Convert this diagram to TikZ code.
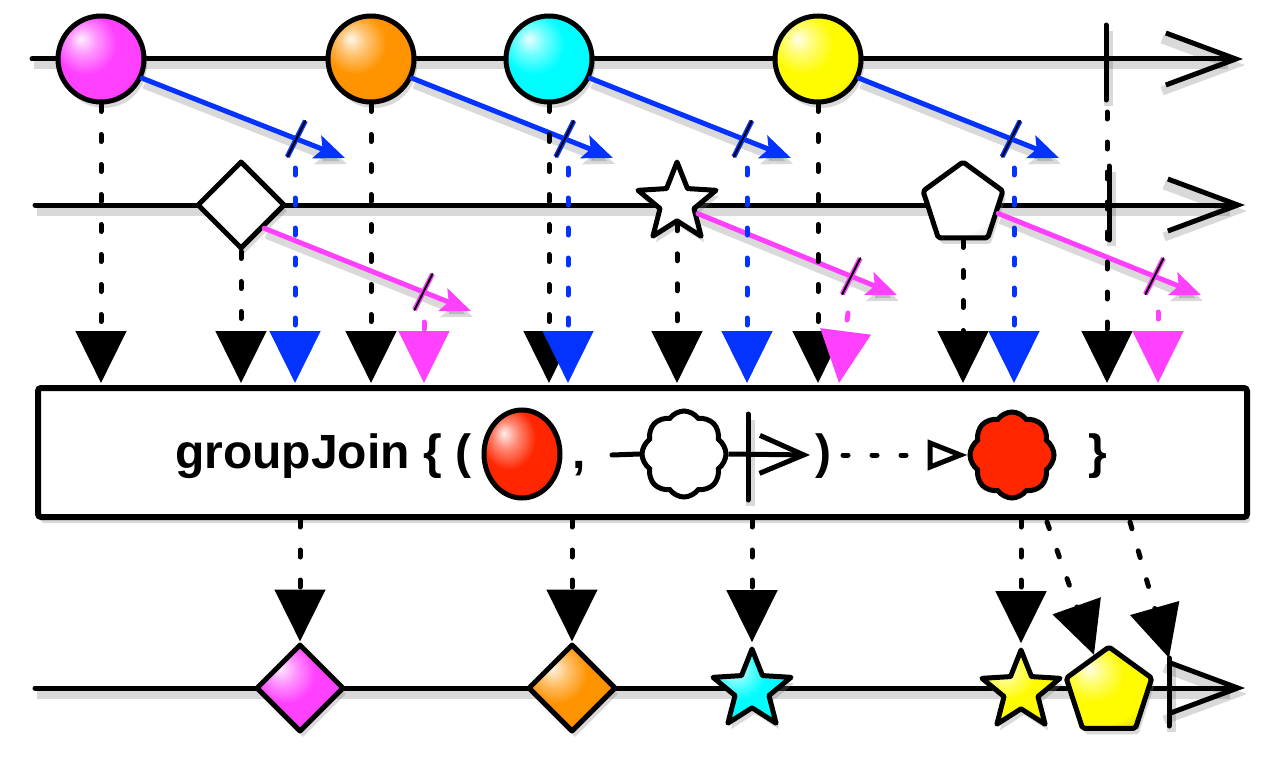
\documentclass[tikz,border=0pt]{standalone}
\usepackage{fontspec}
\setmainfont{Liberation Sans}
\usetikzlibrary{calc, arrows.meta, shapes.geometric, shapes.symbols, shadows}

\definecolor{rxmagenta}{RGB}{255,64,255}
\definecolor{rxblue}{RGB}{4,51,255}
\definecolor{rxorange}{RGB}{255,147,0}
\definecolor{rxcyan}{RGB}{0,253,255}
\definecolor{rxyellow}{RGB}{255,251,0}
\definecolor{rxred}{RGB}{255,38,0}

% brighter glossy fill than the stock ball shading
\makeatletter
\pgfdeclareradialshading[tikz@ball]{marbleball}{\pgfqpoint{-12bp}{12bp}}{%
  color(0bp)=(tikz@ball!8!white); color(8bp)=(tikz@ball!55!white);
  color(18bp)=(tikz@ball); color(30bp)=(tikz@ball);
  color(42bp)=(tikz@ball!78!black); color(54bp)=(tikz@ball!50!black);
  color(70bp)=(tikz@ball!35!black)}
\makeatother

\tikzset{
  bright/.style={ball color=#1, shading=marbleball},
  dropsh/.style={drop shadow={shadow xshift=3pt, shadow yshift=-6pt, opacity=0.3}},
  lineshadow/.style={preaction={draw=black, opacity=0.15, line width=9pt,
      transform canvas={shift={(2pt,-6pt)}}}},
  timeline/.style={line width=5pt, line cap=round, lineshadow,
      -{Straight Barb[length=70pt, width=52pt]}},
  endmark/.style={line width=5pt, line cap=round, lineshadow},
  marble/.style={circle, draw, line width=5pt, minimum size=86pt, inner sep=0pt, dropsh},
  gem/.style={diamond, draw, line width=5pt, line join=round, minimum size=88pt,
      inner sep=0pt, dropsh},
  starnode/.style={star, star points=5, star point ratio=2.3, draw, line width=5pt,
      line join=round, minimum size=82pt, inner sep=0pt, dropsh},
  pentnode/.style={regular polygon, regular polygon sides=5, draw, line width=5pt,
      line join=round, rounded corners=2pt, minimum size=84pt, inner sep=0pt, dropsh},
  flow/.style={line width=5pt, line cap=round, dash pattern=on 7pt off 23pt,
      -{Triangle[length=52pt, width=50pt]}},
  delay/.style={line width=5pt, line cap=round, lineshadow,
      -{Stealth[length=30pt, width=24pt, inset=6pt]}},
  slashmark/.style={line width=2pt, line cap=round, preaction={draw=#1, line width=5pt}},
  opfont/.style={font=\bfseries\fontsize{48}{56}\selectfont, inner sep=0pt, anchor=base west},
  puff/.style={cloud, cloud puffs=8, cloud puff arc=110, aspect=1, draw, line width=5pt,
      minimum width=84pt, minimum height=86pt, inner sep=0pt},
}

\begin{document}
\begin{tikzpicture}[x=1pt, y=-1pt]
  \useasboundingbox (0,0) rectangle (1280,760);

  % the three timelines
  \coordinate (srcL) at (32,59);
  \coordinate (srcR) at (1243,59);
  \coordinate (durL) at (35,205);
  \coordinate (durR) at (1245,205);
  \coordinate (outL) at (35,688);
  \coordinate (outR) at (1245,688);
  \draw[timeline] (srcL) -- (srcR);
  \draw[timeline] (durL) -- (durR);
  \draw[timeline] (outL) -- (outR);

  % completion marks
  \coordinate (srcT) at (1106,25);
  \coordinate (srcB) at (1106,100);
  \coordinate (durT) at (1109,166);
  \coordinate (durB) at (1109,240);
  \coordinate (outT) at (1169,658);
  \coordinate (outB) at (1169,726);
  \draw[endmark] (srcT) -- (srcB);
  \draw[endmark] (durT) -- (durB);
  \draw[endmark] (outT) -- (outB);

  % operator box
  \node[draw, line width=6pt, fill=white, rounded corners=3pt, minimum width=1209pt,
    minimum height=129pt, inner sep=0pt, dropsh] (op) at (642.5,452.5) {};

  % source marbles
  \node[marble, bright=rxmagenta] (mA) at (101,59) {};
  \node[marble, bright=rxorange]  (mB) at (371,59) {};
  \node[marble, bright=rxcyan]    (mC) at (549,59) {};
  \node[marble, bright=rxyellow]  (mD) at (818,59) {};

  % duration marbles
  \node[gem, bright=white]      (dW) at (241,205) {};
  \node[starnode, bright=white] (sW) at (677,203) {};
  \node[pentnode, bright=white] (pW) at (963,204) {};

  % output marbles
  \node[gem, bright=rxmagenta]                   (dB) at (300,688) {};
  \node[gem, bright=rxorange]                    (dO) at (572,688) {};
  \node[starnode, bright=rxcyan]                 (sC) at (752,690) {};
  \node[starnode, bright=rxyellow]               (sY) at (1021,691) {};
  \node[pentnode, bright=rxyellow, minimum size=90pt] (pY) at (1109,692) {};

  % box content
  \node[opfont] (opname) at (175,468) {groupJoin \{ (};
  \node[ellipse, draw, line width=5pt, minimum width=76pt, minimum height=88pt,
    inner sep=0pt, bright=rxred] (rb) at (522,454) {};
  \node[opfont] (comma) at (572,468) {,};
  \node[puff, fill=white] (cW) at (684,454) {};
  \coordinate (wL) at (612,455);
  \coordinate (wR) at (810,455);
  \draw[line width=5pt, line cap=round] (wL) -- (cW.west);
  \draw[line width=5pt, -{Straight Barb[length=44pt, width=38pt]}] (cW.east) -- (wR);
  \draw[endmark] (748,414) -- (748,500);
  \node[opfont] (close) at (815,468) {)};
  \node[puff, fill=rxred] (cR) at (1012,455) {};
  \coordinate (dots) at (843,455);
  \draw[line width=5pt, line cap=round, dash pattern=on 5pt off 24pt,
    -{Triangle[open, length=40pt, width=30pt]}] (dots) -- (cR.west);
  \node[opfont] (brace) at (1088,468) {\}};

  % durations opened by the source (blue)
  \coordinate (bA) at (345,158);
  \coordinate (bB) at (613,158);
  \coordinate (bC) at (791,158);
  \coordinate (bD) at (1059,158);
  \draw[delay, rxblue] (mA.-25) -- coordinate[pos=0.76] (xA) (bA);
  \draw[delay, rxblue] (mB.-25) -- coordinate[pos=0.76] (xB) (bB);
  \draw[delay, rxblue] (mC.-25) -- coordinate[pos=0.76] (xC) (bC);
  \draw[delay, rxblue] (mD.-25) -- coordinate[pos=0.76] (xD) (bD);
  \foreach \s in {xA, xB, xC, xD}
    \draw[slashmark=rxblue] ($(\s)+(9,-18)$) -- ($(\s)+(-9,18)$);

  % durations opened by the other stream (magenta)
  \coordinate (gE) at (471,311);
  \coordinate (gF) at (897,295);
  \coordinate (gG) at (1201,295);
  \draw[delay, rxmagenta] (dW.south east) -- coordinate[pos=0.77] (xE) (gE);
  \draw[delay, rxmagenta] (sW.-27) -- coordinate[pos=0.77] (xF) (gF);
  \draw[delay, rxmagenta] (pW.-15) -- coordinate[pos=0.77] (xG) (gG);
  \foreach \s in {xE, xF, xG}
    \draw[slashmark=rxmagenta] ($(\s)+(9,-18)$) -- ($(\s)+(-9,18)$);

  % into the operator
  \coordinate (tips) at (0,383);
  \foreach \m in {mA, dW, mB, mC, sW, mD, pW}
    \draw[flow] (\m.south) -- (\m.south |- tips);
  \coordinate (srcD) at (1107,112);
  \draw[flow] (srcD) -- (srcD |- tips);

  \coordinate (vA) at (295,168);
  \coordinate (vB) at (568,168);
  \coordinate (vC) at (747,168);
  \coordinate (vD) at (1014,168);
  \foreach \v in {vA, vB, vC, vD}
    \draw[flow, rxblue] (\v) -- (\v |- tips);

  \coordinate (vE) at (424,322);
  \coordinate (vF) at (848,313);
  \coordinate (vFt) at (839,383);
  \coordinate (vG) at (1158,312);
  \draw[flow, rxmagenta] (vE) -- (vE |- tips);
  \draw[flow, rxmagenta] (vF) -- (vFt);
  \draw[flow, rxmagenta] (vG) -- (vG |- tips);

  % out of the operator
  \foreach \m in {dB, dO, sC, sY}
    \draw[flow] (\m |- op.south) -- (\m.north);
  \coordinate (oA) at (1047,522);
  \coordinate (oB) at (1130,522);
  \draw[flow] (oA) -- (pY.112);
  \draw[flow] (oB) -- (outT);
\end{tikzpicture}
\end{document}
